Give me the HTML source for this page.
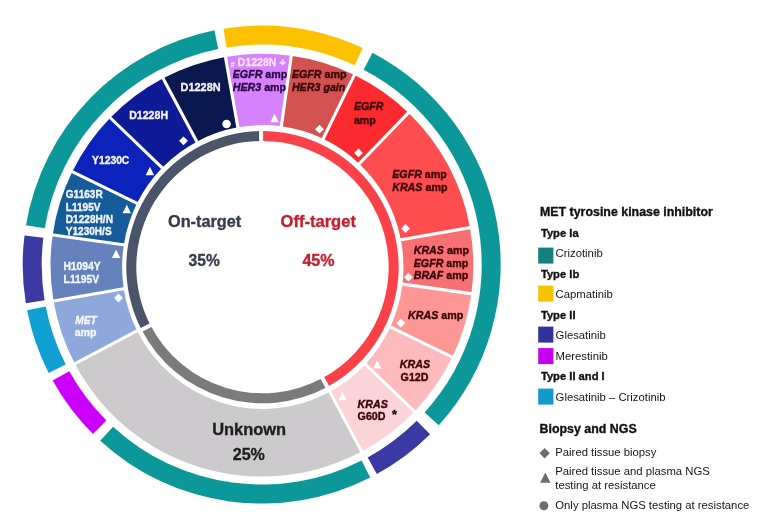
<!DOCTYPE html>
<html><head><meta charset="utf-8"><style>
html,body{margin:0;padding:0;background:#fff;}
body{width:758px;height:516px;position:relative;overflow:hidden;font-family:"Liberation Sans",sans-serif;}
svg text{font-family:"Liberation Sans",sans-serif;}
svg{filter:blur(0.4px);}
</style></head><body>
<svg width="758" height="516" viewBox="0 0 758 516" style="position:absolute;left:0;top:0">
<path d="M223.49,28.67 A239.0,239.0 0 0 1 362.71,47.99 L354.68,65.21 A220.0,220.0 0 0 0 226.53,47.43 Z" fill="#fcc100"/>
<path d="M372.43,52.80 A239.0,239.0 0 0 1 438.75,425.14 L424.68,412.38 A220.0,220.0 0 0 0 363.63,69.64 Z" fill="#0c9898"/>
<path d="M430.11,434.19 A239.0,239.0 0 0 1 376.84,474.04 L367.69,457.39 A220.0,220.0 0 0 0 416.72,420.71 Z" fill="#3a3aa2"/>
<path d="M370.20,477.55 A239.0,239.0 0 0 1 100.23,440.81 L113.07,426.80 A220.0,220.0 0 0 0 361.58,460.62 Z" fill="#0c9898"/>
<path d="M93.00,433.89 A239.0,239.0 0 0 1 52.67,380.47 L69.28,371.26 A220.0,220.0 0 0 0 106.41,420.43 Z" fill="#cb00fc"/>
<path d="M48.75,373.10 A239.0,239.0 0 0 1 27.09,310.20 L45.74,306.58 A220.0,220.0 0 0 0 65.68,364.48 Z" fill="#10a0d2"/>
<path d="M25.84,303.22 A239.0,239.0 0 0 1 24.48,235.47 L43.34,237.79 A220.0,220.0 0 0 0 44.59,300.15 Z" fill="#3a3aa2"/>
<path d="M25.98,225.15 A239.0,239.0 0 0 1 214.46,30.32 L218.22,48.94 A220.0,220.0 0 0 0 44.72,228.29 Z" fill="#0c9898"/>
<path d="M225.44,56.97 A211.4,211.4 0 0 1 291.30,55.85 L281.39,126.34 A140.7,141.9 0 0 0 237.85,127.35 Z" fill="#d782fd"/>
<path d="M291.30,55.85 A211.4,211.4 0 0 1 354.30,75.06 L323.19,138.84 A140.7,141.9 0 0 0 281.39,126.34 Z" fill="#d15250"/>
<path d="M354.30,75.06 A211.4,211.4 0 0 1 408.35,112.75 L359.20,163.64 A140.7,141.9 0 0 0 323.19,138.84 Z" fill="#fa2a2e"/>
<path d="M408.35,112.75 A211.4,211.4 0 0 1 469.94,227.64 L400.89,239.81 A140.7,141.9 0 0 0 359.20,163.64 Z" fill="#fe4d4f"/>
<path d="M469.94,227.64 A211.4,211.4 0 0 1 471.37,293.72 L402.48,284.04 A140.7,141.9 0 0 0 400.89,239.81 Z" fill="#f77073"/>
<path d="M471.37,293.72 A211.4,211.4 0 0 1 452.28,357.10 L390.35,326.90 A140.7,141.9 0 0 0 402.48,284.04 Z" fill="#fd9795"/>
<path d="M452.28,357.10 A211.4,211.4 0 0 1 414.47,411.53 L365.37,364.13 A140.7,141.9 0 0 0 390.35,326.90 Z" fill="#fdbbbd"/>
<path d="M414.47,411.53 A211.4,211.4 0 0 1 361.60,451.61 L329.79,391.79 A140.7,141.9 0 0 0 365.37,364.13 Z" fill="#fbd4d8"/>
<path d="M361.60,451.61 A211.4,211.4 0 0 1 74.90,363.79 L137.08,330.72 A140.7,141.9 0 0 0 329.79,391.79 Z" fill="#cccacc"/>
<path d="M74.90,363.79 A211.4,211.4 0 0 1 53.56,301.05 L123.75,288.68 A140.7,141.9 0 0 0 137.08,330.72 Z" fill="#8ea8db"/>
<path d="M53.56,301.05 A211.4,211.4 0 0 1 52.69,234.88 L123.82,244.88 A140.7,141.9 0 0 0 123.75,288.68 Z" fill="#6682bd"/>
<path d="M52.69,234.88 A211.4,211.4 0 0 1 72.27,171.76 L137.05,203.36 A140.7,141.9 0 0 0 123.82,244.88 Z" fill="#165c9a"/>
<path d="M72.27,171.76 A211.4,211.4 0 0 1 110.33,117.83 L162.13,167.86 A140.7,141.9 0 0 0 137.05,203.36 Z" fill="#0b22bb"/>
<path d="M110.33,117.83 A211.4,211.4 0 0 1 163.11,78.31 L196.80,141.68 A140.7,141.9 0 0 0 162.13,167.86 Z" fill="#0e1a96"/>
<path d="M163.11,78.31 A211.4,211.4 0 0 1 225.44,56.97 L237.85,127.35 A140.7,141.9 0 0 0 196.80,141.68 Z" fill="#0b1850"/>
<line x1="238.37" y1="130.30" x2="224.92" y2="54.01" stroke="#fff" stroke-width="3.1"/>
<line x1="280.97" y1="129.31" x2="291.71" y2="52.88" stroke="#fff" stroke-width="3.1"/>
<line x1="321.88" y1="141.53" x2="355.61" y2="72.37" stroke="#fff" stroke-width="3.1"/>
<line x1="357.12" y1="165.80" x2="410.44" y2="110.59" stroke="#fff" stroke-width="3.1"/>
<line x1="397.94" y1="240.33" x2="472.89" y2="227.11" stroke="#fff" stroke-width="3.1"/>
<line x1="399.51" y1="283.63" x2="474.34" y2="294.14" stroke="#fff" stroke-width="3.1"/>
<line x1="387.65" y1="325.58" x2="454.97" y2="358.42" stroke="#fff" stroke-width="3.1"/>
<line x1="363.22" y1="362.04" x2="416.62" y2="413.62" stroke="#fff" stroke-width="3.1"/>
<line x1="328.38" y1="389.14" x2="363.01" y2="454.26" stroke="#fff" stroke-width="3.1"/>
<line x1="139.73" y1="329.31" x2="72.25" y2="365.19" stroke="#fff" stroke-width="3.1"/>
<line x1="126.71" y1="288.16" x2="50.61" y2="301.57" stroke="#fff" stroke-width="3.1"/>
<line x1="126.79" y1="245.30" x2="49.71" y2="234.47" stroke="#fff" stroke-width="3.1"/>
<line x1="139.74" y1="204.67" x2="69.57" y2="170.45" stroke="#fff" stroke-width="3.1"/>
<line x1="164.29" y1="169.95" x2="108.17" y2="115.75" stroke="#fff" stroke-width="3.1"/>
<line x1="198.21" y1="144.33" x2="161.70" y2="75.66" stroke="#fff" stroke-width="3.1"/>
<path d="M261.07,130.91 A136.2,136.2 0 0 1 327.28,386.91 L322.52,378.11 A126.2,126.2 0 0 0 261.18,140.91 Z" fill="#fb4148"/>
<path d="M327.28,386.91 A136.2,136.2 0 0 1 141.58,329.78 L150.46,325.18 A126.2,126.2 0 0 0 322.52,378.11 Z" fill="#7b7b7e"/>
<path d="M141.58,329.78 A136.2,136.2 0 0 1 261.07,130.91 L261.18,140.91 A126.2,126.2 0 0 0 150.46,325.18 Z" fill="#4b5569"/>
<line x1="261.21" y1="143.91" x2="261.04" y2="127.91" stroke="#fff" stroke-width="4"/>
<line x1="321.10" y1="375.47" x2="328.71" y2="389.55" stroke="#fff" stroke-width="4"/>
<line x1="153.12" y1="323.80" x2="138.92" y2="331.16" stroke="#fff" stroke-width="4"/>
<circle cx="226.6" cy="124" r="4.3" fill="#fff"/>
<path d="M274.5,113.8 L278.7,122.2 L270.3,122.2 Z" fill="#fff"/>
<path d="M319.5,124.8 L323.9,129.2 L319.5,133.6 L315.1,129.2 Z" fill="#fff"/>
<path d="M358.5,148.5 L362.9,152.9 L358.5,157.3 L354.1,152.9 Z" fill="#fff"/>
<path d="M405.5,224.1 L409.9,228.5 L405.5,232.9 L401.1,228.5 Z" fill="#fff"/>
<path d="M408.4,272.8 L412.8,277.2 L408.4,281.6 L404.0,277.2 Z" fill="#fff"/>
<path d="M400.8,318.7 L405.2,323.1 L400.8,327.5 L396.4,323.1 Z" fill="#fff"/>
<path d="M377.1,360.2 L381.3,368.5 L372.9,368.5 Z" fill="#fff"/>
<path d="M342.6,392.1 L346.8,400.3 L338.4,400.3 Z" fill="#fff"/>
<path d="M118.5,293.6 L122.9,298.0 L118.5,302.4 L114.1,298.0 Z" fill="#fff"/>
<path d="M116.1,249.8 L120.3,258.1 L111.9,258.1 Z" fill="#fff"/>
<path d="M126.8,204.8 L131.0,213.2 L122.6,213.2 Z" fill="#fff"/>
<path d="M149.9,166.8 L154.1,175.2 L145.7,175.2 Z" fill="#fff"/>
<path d="M183.5,136.4 L187.9,140.8 L183.5,145.2 L179.1,140.8 Z" fill="#fff"/>
<text x="168" y="227" font-size="16.3" font-weight="bold" font-style="normal" fill="#373c4b" text-anchor="start" stroke="#373c4b" stroke-width="0.35">On-target</text>
<text x="280.6" y="227" font-size="16.55" font-weight="bold" font-style="normal" fill="#c81d2d" text-anchor="start" stroke="#c81d2d" stroke-width="0.35">Off-target</text>
<text x="188.6" y="266.3" font-size="15.6" font-weight="bold" font-style="normal" fill="#373c4b" text-anchor="start" stroke="#373c4b" stroke-width="0.35">35%</text>
<text x="302.4" y="266.3" font-size="16.1" font-weight="bold" font-style="normal" fill="#c81d2d" text-anchor="start" stroke="#c81d2d" stroke-width="0.35">45%</text>
<text x="212.2" y="435.3" font-size="16.45" font-weight="bold" font-style="normal" fill="#1f1f1f" text-anchor="start" stroke="#1f1f1f" stroke-width="0.35">Unknown</text>
<text x="232.7" y="459.9" font-size="16.1" font-weight="bold" font-style="normal" fill="#1f1f1f" text-anchor="start" stroke="#1f1f1f" stroke-width="0.35">25%</text>
<text x="180.6" y="90.9" font-size="10.9" font-weight="bold" font-style="normal" fill="#f4f6fb" text-anchor="start" stroke="#f4f6fb" stroke-width="0.35">D1228N</text>
<text x="129.2" y="119.2" font-size="10.6" font-weight="bold" font-style="normal" fill="#f4f6fb" text-anchor="start" stroke="#f4f6fb" stroke-width="0.35">D1228H</text>
<text x="92.1" y="163.7" font-size="10.3" font-weight="bold" font-style="normal" fill="#f4f6fb" text-anchor="start" stroke="#f4f6fb" stroke-width="0.35">Y1230C</text>
<text x="65.8" y="198.1" font-size="10.05" font-weight="bold" font-style="normal" fill="#f4f6fb" text-anchor="start" stroke="#f4f6fb" stroke-width="0.35">G1163R</text>
<text x="65.8" y="210.8" font-size="10.05" font-weight="bold" font-style="normal" fill="#f4f6fb" text-anchor="start" stroke="#f4f6fb" stroke-width="0.35">L1195V</text>
<text x="65.8" y="222.7" font-size="10.1" font-weight="bold" font-style="normal" fill="#f4f6fb" text-anchor="start" stroke="#f4f6fb" stroke-width="0.35">D1228H/N</text>
<text x="65.8" y="235.1" font-size="10.05" font-weight="bold" font-style="normal" fill="#f4f6fb" text-anchor="start" stroke="#f4f6fb" stroke-width="0.35">Y1230H/S</text>
<text x="63.4" y="269.6" font-size="10.35" font-weight="bold" font-style="normal" fill="#f4f6fb" text-anchor="start" stroke="#f4f6fb" stroke-width="0.35">H1094Y</text>
<text x="63.6" y="282.7" font-size="10.35" font-weight="bold" font-style="normal" fill="#f4f6fb" text-anchor="start" stroke="#f4f6fb" stroke-width="0.35">L1195V</text>
<text x="75.2" y="323.9" font-size="10.2" font-weight="bold" font-style="italic" fill="#f4f6fb" text-anchor="start" stroke="#f4f6fb" stroke-width="0.35">MET</text>
<text x="74.7" y="336.3" font-size="10.6" font-weight="bold" font-style="normal" fill="#f4f6fb" text-anchor="start" stroke="#f4f6fb" stroke-width="0.35">amp</text>
<text x="230.8" y="67" font-size="7" font-weight="bold" font-style="normal" fill="#f5d8fb" text-anchor="start" stroke="#f5d8fb" stroke-width="0.35">#</text>
<text x="237.6" y="65.8" font-size="10.6" font-weight="bold" font-style="normal" fill="#f7defc" text-anchor="start" stroke="#f7defc" stroke-width="0.35">D1228N +</text>
<text x="232.7" y="78.3" font-size="10.7" font-weight="bold" fill="#2c0845" stroke="#2c0845" stroke-width="0.35" xml:space="preserve"><tspan font-style="italic">EGFR</tspan><tspan font-style="normal"> amp</tspan></text>
<text x="232.7" y="91.2" font-size="10.7" font-weight="bold" fill="#2c0845" stroke="#2c0845" stroke-width="0.35" xml:space="preserve"><tspan font-style="italic">HER3</tspan><tspan font-style="normal"> amp</tspan></text>
<text x="291.9" y="78.3" font-size="10.7" font-weight="bold" fill="#3a0507" stroke="#3a0507" stroke-width="0.35" xml:space="preserve"><tspan font-style="italic">EGFR</tspan><tspan font-style="normal"> amp</tspan></text>
<text x="291.9" y="91.2" font-size="10.7" font-weight="bold" fill="#3a0507" stroke="#3a0507" stroke-width="0.35" xml:space="preserve"><tspan font-style="italic">HER3</tspan><tspan font-style="italic"> gain</tspan></text>
<text x="353.9" y="110.3" font-size="10.7" font-weight="bold" fill="#3a0507" stroke="#3a0507" stroke-width="0.35" xml:space="preserve"><tspan font-style="italic">EGFR</tspan></text>
<text x="353.9" y="123.5" font-size="10.7" font-weight="bold" fill="#3a0507" stroke="#3a0507" stroke-width="0.35" xml:space="preserve"><tspan font-style="normal">amp</tspan></text>
<text x="392.2" y="177.8" font-size="10.7" font-weight="bold" fill="#3a0507" stroke="#3a0507" stroke-width="0.35" xml:space="preserve"><tspan font-style="italic">EGFR</tspan><tspan font-style="normal"> amp</tspan></text>
<text x="392.2" y="190.6" font-size="10.7" font-weight="bold" fill="#3a0507" stroke="#3a0507" stroke-width="0.35" xml:space="preserve"><tspan font-style="italic">KRAS</tspan><tspan font-style="normal"> amp</tspan></text>
<text x="413.7" y="254" font-size="10.7" font-weight="bold" fill="#3a0507" stroke="#3a0507" stroke-width="0.35" xml:space="preserve"><tspan font-style="italic">KRAS</tspan><tspan font-style="normal"> amp</tspan></text>
<text x="413.7" y="266.5" font-size="10.7" font-weight="bold" fill="#3a0507" stroke="#3a0507" stroke-width="0.35" xml:space="preserve"><tspan font-style="italic">EGFR</tspan><tspan font-style="normal"> amp</tspan></text>
<text x="413.7" y="278.8" font-size="10.7" font-weight="bold" fill="#3a0507" stroke="#3a0507" stroke-width="0.35" xml:space="preserve"><tspan font-style="italic">BRAF</tspan><tspan font-style="normal"> amp</tspan></text>
<text x="408" y="319.4" font-size="10.7" font-weight="bold" fill="#3a0507" stroke="#3a0507" stroke-width="0.35" xml:space="preserve"><tspan font-style="italic">KRAS</tspan><tspan font-style="normal"> amp</tspan></text>
<text x="399.8" y="367.9" font-size="10.7" font-weight="bold" fill="#3a0507" stroke="#3a0507" stroke-width="0.35" xml:space="preserve"><tspan font-style="italic">KRAS</tspan></text>
<text x="400.6" y="380.5" font-size="10.7" font-weight="bold" fill="#3a0507" stroke="#3a0507" stroke-width="0.35" xml:space="preserve"><tspan font-style="normal">G12D</tspan></text>
<text x="357.6" y="407.7" font-size="10.7" font-weight="bold" fill="#3a0507" stroke="#3a0507" stroke-width="0.35" xml:space="preserve"><tspan font-style="italic">KRAS</tspan></text>
<text x="357.6" y="420.2" font-size="10.7" font-weight="bold" fill="#3a0507" stroke="#3a0507" stroke-width="0.35" xml:space="preserve"><tspan font-style="normal">G60D</tspan></text>
<text x="392" y="418.5" font-size="12.5" font-weight="bold" font-style="normal" fill="#140808" text-anchor="start" stroke="#140808" stroke-width="0.35">*</text>
<text x="540.0" y="216.1" font-size="12.4" font-weight="bold" font-style="normal" fill="#111" text-anchor="start" stroke="#111" stroke-width="0.35">MET tyrosine kinase inhibitor</text>
<text x="540.9" y="236.9" font-size="11.2" font-weight="bold" font-style="normal" fill="#111" text-anchor="start" stroke="#111" stroke-width="0.35">Type Ia</text>
<rect x="538.2" y="247.6" width="15.2" height="16" fill="#13827f"/>
<text x="555.6" y="257" font-size="11.3" font-weight="normal" font-style="normal" fill="#161616" text-anchor="start">Crizotinib</text>
<text x="540.9" y="278.1" font-size="11.2" font-weight="bold" font-style="normal" fill="#111" text-anchor="start" stroke="#111" stroke-width="0.35">Type Ib</text>
<rect x="538.2" y="285.6" width="15.2" height="16" fill="#f9c200"/>
<text x="555.6" y="298.3" font-size="11.3" font-weight="normal" font-style="normal" fill="#161616" text-anchor="start">Capmatinib</text>
<text x="540.9" y="319" font-size="11.2" font-weight="bold" font-style="normal" fill="#111" text-anchor="start" stroke="#111" stroke-width="0.35">Type II</text>
<rect x="538.2" y="326.6" width="15.2" height="16" fill="#32329c"/>
<text x="555.6" y="339.2" font-size="11.3" font-weight="normal" font-style="normal" fill="#161616" text-anchor="start">Glesatinib</text>
<rect x="538.2" y="348.1" width="15.2" height="16" fill="#c800f2"/>
<text x="555.6" y="359.5" font-size="11.3" font-weight="normal" font-style="normal" fill="#161616" text-anchor="start">Merestinib</text>
<text x="540.9" y="380.3" font-size="11.2" font-weight="bold" font-style="normal" fill="#111" text-anchor="start" stroke="#111" stroke-width="0.35">Type II and I</text>
<rect x="538.2" y="388.6" width="15.2" height="16" fill="#1399cc"/>
<text x="555.6" y="400.8" font-size="11.3" font-weight="normal" font-style="normal" fill="#161616" text-anchor="start">Glesatinib – Crizotinib</text>
<text x="539.6" y="432.8" font-size="12.4" font-weight="bold" font-style="normal" fill="#111" text-anchor="start" stroke="#111" stroke-width="0.35">Biopsy and NGS</text>
<path d="M544.6,448.1 L549.8,453.3 L544.6,458.5 L539.4,453.3 Z" fill="#6d6d6d"/>
<text x="555.3" y="456" font-size="11.3" font-weight="normal" font-style="normal" fill="#161616" text-anchor="start">Paired tissue biopsy</text>
<path d="M545.3,472.4 L550.5,482.8 L540.1,482.8 Z" fill="#6d6d6d"/>
<text x="555.3" y="474.8" font-size="11.3" font-weight="normal" font-style="normal" fill="#161616" text-anchor="start">Paired tissue and plasma NGS</text>
<text x="555.3" y="489.1" font-size="11.3" font-weight="normal" font-style="normal" fill="#161616" text-anchor="start">testing at resistance</text>
<circle cx="543.9" cy="505.7" r="4.5" fill="#6d6d6d"/>
<text x="555.3" y="509" font-size="11.3" font-weight="normal" font-style="normal" fill="#161616" text-anchor="start">Only plasma NGS testing at resistance</text>
</svg>
</body></html>
